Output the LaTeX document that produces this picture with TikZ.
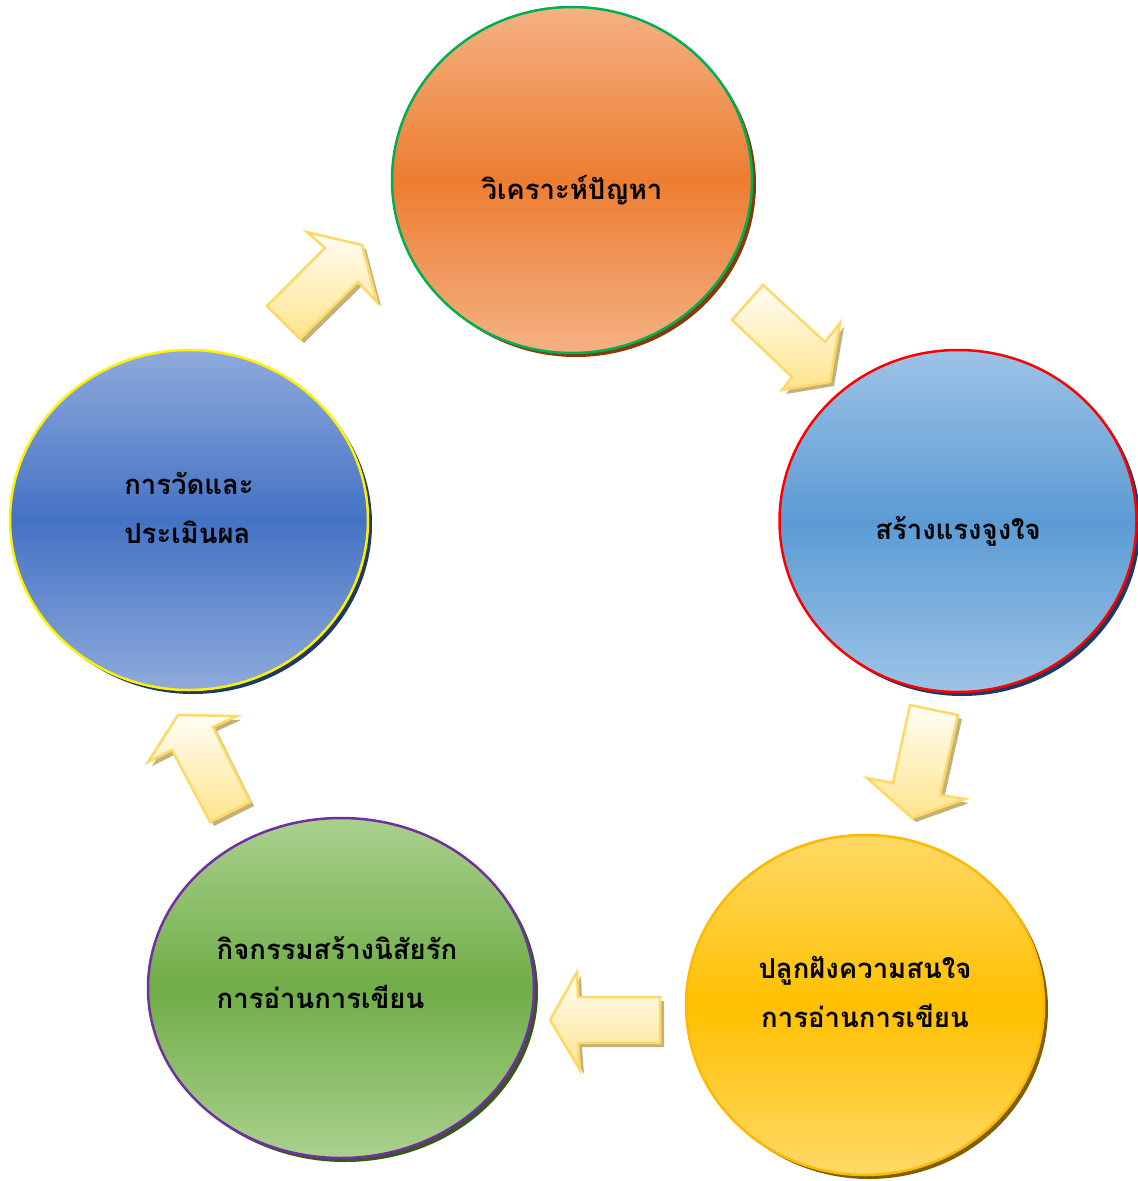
\documentclass[tikz,border=0pt]{standalone}
\usepackage{fontspec}
\newfontfamily\thaifont[Script=Thai]{Loma}
\usetikzlibrary{shapes.geometric,shadows}

\definecolor{orgtop}{RGB}{244,177,131}
\definecolor{orgmid}{RGB}{237,125,49}
\definecolor{orgshd}{RGB}{132,60,12}
\definecolor{rbltop}{RGB}{157,195,230}
\definecolor{rblmid}{RGB}{91,155,213}
\definecolor{blushd}{RGB}{31,56,100}
\definecolor{yeltop}{RGB}{255,217,102}
\definecolor{yelmid}{RGB}{255,192,0}
\definecolor{yelshd}{RGB}{127,96,0}
\definecolor{grntop}{RGB}{169,209,142}
\definecolor{grnmid}{RGB}{112,173,71}
\definecolor{grnshd}{RGB}{56,87,35}
\definecolor{lbltop}{RGB}{143,170,220}
\definecolor{lblmid}{RGB}{68,114,196}
\definecolor{arrline}{RGB}{255,217,102}
\definecolor{arrtop}{RGB}{255,253,246}
\definecolor{arrbot}{RGB}{255,228,140}
\definecolor{arrshd}{RGB}{196,176,122}

\tikzset{
  bubble/.style={ellipse, inner sep=0pt, line width=2.5pt},
  lbl/.style={font=\thaifont\bfseries\fontsize{27.5}{49}\selectfont, text=black, inner sep=0pt},
  blockarr/.style={draw=arrline, line width=2.5pt, line join=miter,
    top color=arrtop, bottom color=arrbot,
    drop shadow={shadow xshift=4pt, shadow yshift=-4pt, fill=arrshd, opacity=1}},
}

\begin{document}
\begin{tikzpicture}[x=1pt,y=-1pt]
  \useasboundingbox (0,0) rectangle (1138,1181);
  % circles
  \node[bubble, minimum width=360pt, minimum height=346pt, draw={rgb,255:red,0;green,176;blue,80},
    top color=orgtop, bottom color=orgtop, middle color=orgmid,
    drop shadow={shadow xshift=4pt, shadow yshift=-4pt, fill=orgshd, opacity=1}] (e1) at (572,180) {};
  \node[bubble, minimum width=357pt, minimum height=342pt, draw=red,
    top color=rbltop, bottom color=rbltop, middle color=rblmid,
    drop shadow={shadow xshift=4pt, shadow yshift=-4pt, fill=blushd, opacity=1}] (e2) at (958,521) {};
  \node[bubble, minimum width=358pt, minimum height=340pt, draw={rgb,255:red,255;green,185;blue,0},
    top color=yeltop, bottom color=yeltop, middle color=yelmid,
    drop shadow={shadow xshift=4pt, shadow yshift=-4pt, fill=yelshd, opacity=1}] (e3) at (865,1005) {};
  \node[bubble, minimum width=386pt, minimum height=340pt, draw={rgb,255:red,112;green,48;blue,160},
    top color=grntop, bottom color=grntop, middle color=grnmid,
    drop shadow={shadow xshift=4pt, shadow yshift=-4pt, fill=grnshd, opacity=1}] (e4) at (341,988) {};
  \node[bubble, minimum width=358pt, minimum height=340pt, draw=yellow,
    top color=lbltop, bottom color=lbltop, middle color=lblmid,
    drop shadow={shadow xshift=4pt, shadow yshift=-4pt, fill=blushd, opacity=1}] (e5) at (189,520) {};
  % texts
  \node[lbl] (t1) at ([yshift=-10pt]e1) {วิเคราะห์ปัญหา};
  \node[lbl] (t2) at ([yshift=-10pt]e2) {สร้างแรงจูงใจ};
  \node[lbl, align=center] (t3) at ([yshift=13pt]e3) {ปลูกฝังความสนใจ\\การอ่านการเขียน};
  \node[lbl, align=left] (t4) at ([xshift=-4pt,yshift=15pt]e4) {กิจกรรมสร้างนิสัยรัก\\การอ่านการเขียน};
  \node[lbl, align=left] (t5) at ([yshift=12pt]e5) {การวัดและ\\ประเมินผล};
  % block arrows
  \draw[blockarr] (307,232) -- (362,245) -- (377,302) -- (358,282) -- (300,339) -- (267,306) -- (325,248) -- cycle;
  \draw[blockarr] (763,285) -- (825,342) -- (840,323) -- (830,382) -- (782,390) -- (792,377) -- (732,320) -- cycle;
  \draw[blockarr] (910,705) -- (958,715) -- (940,795) -- (965,799) -- (912,818) -- (867,778) -- (893,783) -- cycle;
  \draw[blockarr] (660,997) -- (660,1043) -- (578,1043) -- (580,1070) -- (550,1020) -- (577,972) -- (578,997) -- cycle;
  \draw[blockarr] (250,802) -- (210,822) -- (172,750) -- (148,762) -- (178,715) -- (237,716) -- (213,727) -- cycle;
\end{tikzpicture}
\end{document}
